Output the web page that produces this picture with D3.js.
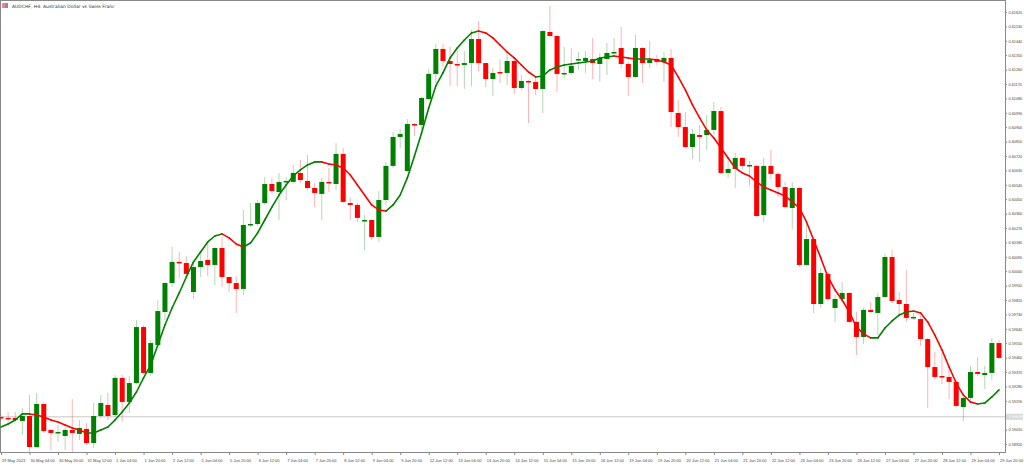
<!DOCTYPE html>
<html>
<head>
<meta charset="utf-8">
<script src="https://cdn.jsdelivr.net/npm/d3@7"></script>
<style>
  body { margin: 0; background: #fff; }
  svg { display: block; font-family: "DejaVu Sans", sans-serif; }
</style>
</head>
<body>
<div id="chart"></div>
<script>
// H4 candles, index 0 = 29 May 2023 00:00
var opens = [0.59089,0.59083,0.59083,0.59064,0.59095,0.58901,0.59170,0.59008,0.58989,0.58970,
  0.59008,0.58983,0.59014,0.58926,0.59095,0.59164,0.59101,0.59333,0.59183,0.59301,
  0.59651,0.59364,0.59539,0.59745,0.59926,0.60058,0.60051,0.59870,0.60026,0.60070,
  0.60039,0.60145,0.59964,0.59926,0.59889,0.60289,0.60295,0.60426,0.60545,0.60495,
  0.60558,0.60558,0.60614,0.60564,0.60520,0.60483,0.60558,0.60545,0.60733,0.60426,
  0.60414,0.60314,0.60320,0.60214,0.60445,0.60658,0.60839,0.60626,0.60920,0.60914,
  0.61076,0.61233,0.61389,0.61314,0.61295,0.61289,0.61301,0.61451,0.61301,0.61201,
  0.61245,0.61239,0.61314,0.61145,0.61189,0.61183,0.61139,0.61495,0.61470,0.61233,
  0.61239,0.61320,0.61314,0.61326,0.61295,0.61326,0.61364,0.61395,0.61295,0.61214,
  0.61395,0.61301,0.61326,0.61308,0.61333,0.60989,0.60901,0.60776,0.60851,0.60851,
  0.60883,0.61001,0.60614,0.60639,0.60708,0.60658,0.60658,0.60351,0.60658,0.60608,
  0.60526,0.60395,0.60520,0.60039,0.60201,0.59795,0.59983,0.59770,0.59826,0.59864,
  0.59683,0.59589,0.59758,0.59739,0.59839,0.60089,0.59820,0.59795,0.59708,0.59701,
  0.59576,0.59401,0.59345,0.59339,0.59308,0.59151,0.59208,0.59370,0.59351,0.59364,
  0.59551];
var highs = [0.59101,0.59120,0.59120,0.59145,0.59226,0.59239,0.59183,0.59014,0.59039,0.59039,
  0.59201,0.59070,0.59051,0.59176,0.59226,0.59239,0.59351,0.59351,0.59345,0.59695,
  0.59664,0.59570,0.59820,0.59933,0.60151,0.60120,0.60095,0.60051,0.60108,0.60183,
  0.60151,0.60214,0.59964,0.59970,0.60383,0.60426,0.60445,0.60589,0.60583,0.60614,
  0.60589,0.60664,0.60695,0.60726,0.60551,0.60583,0.60645,0.60801,0.60770,0.60464,
  0.60426,0.60351,0.60326,0.60501,0.60683,0.60870,0.60889,0.60951,0.60926,0.61089,
  0.61264,0.61420,0.61420,0.61401,0.61383,0.61376,0.61508,0.61564,0.61301,0.61270,
  0.61326,0.61370,0.61333,0.61226,0.61195,0.61214,0.61508,0.61658,0.61476,0.61401,
  0.61395,0.61370,0.61376,0.61458,0.61364,0.61426,0.61458,0.61526,0.61308,0.61476,
  0.61401,0.61439,0.61351,0.61370,0.61389,0.61070,0.60995,0.60889,0.60914,0.60976,
  0.61058,0.61026,0.60695,0.60739,0.60714,0.60689,0.60664,0.60708,0.60758,0.60620,
  0.60558,0.60558,0.60526,0.60301,0.60208,0.60020,0.59995,0.59851,0.59933,0.59870,
  0.59745,0.59770,0.59808,0.59864,0.60108,0.60133,0.59870,0.60008,0.59739,0.59726,
  0.59583,0.59495,0.59489,0.59401,0.59320,0.59239,0.59408,0.59464,0.59408,0.59583,
  0.59570];
var lows = [0.59070,0.59058,0.59058,0.58976,0.58870,0.58895,0.58989,0.58883,0.58933,0.58883,
  0.58870,0.58945,0.58914,0.58895,0.59083,0.59070,0.59089,0.59058,0.59114,0.59295,
  0.59358,0.59345,0.59526,0.59695,0.59901,0.59958,0.59964,0.59826,0.59964,0.59970,
  0.59914,0.59901,0.59870,0.59739,0.59851,0.60276,0.60283,0.60414,0.60483,0.60320,
  0.60445,0.60551,0.60551,0.60508,0.60401,0.60320,0.60495,0.60508,0.60426,0.60320,
  0.60308,0.60133,0.60195,0.60183,0.60414,0.60645,0.60770,0.60620,0.60845,0.60883,
  0.61070,0.61176,0.61276,0.61158,0.61158,0.61139,0.61158,0.61251,0.61151,0.61095,
  0.61176,0.61164,0.61108,0.61133,0.60926,0.61101,0.60989,0.61464,0.61120,0.61208,
  0.61226,0.61258,0.61239,0.61201,0.61183,0.61226,0.61339,0.61270,0.61095,0.61208,
  0.61176,0.61270,0.61289,0.61183,0.60901,0.60839,0.60770,0.60701,0.60683,0.60758,
  0.60851,0.60608,0.60583,0.60520,0.60639,0.60533,0.60339,0.60308,0.60576,0.60464,
  0.60395,0.60264,0.60026,0.60033,0.59739,0.59770,0.59820,0.59683,0.59808,0.59676,
  0.59476,0.59545,0.59739,0.59601,0.59833,0.59801,0.59726,0.59683,0.59695,0.59533,
  0.59145,0.59326,0.59295,0.59201,0.59151,0.59064,0.59195,0.59345,0.59264,0.59320,
  0.59451];
var closes = [0.59083,0.59076,0.59070,0.59095,0.58901,0.59170,0.59001,0.58989,0.58995,0.59008,
  0.58989,0.59020,0.58926,0.59095,0.59176,0.59095,0.59333,0.59183,0.59301,0.59651,
  0.59364,0.59551,0.59751,0.59926,0.60058,0.60051,0.59983,0.60026,0.60064,0.60039,
  0.60145,0.59964,0.59926,0.59889,0.60289,0.60295,0.60426,0.60545,0.60501,0.60558,
  0.60564,0.60614,0.60570,0.60520,0.60489,0.60558,0.60551,0.60733,0.60433,0.60414,
  0.60333,0.60320,0.60214,0.60445,0.60658,0.60839,0.60858,0.60920,0.60914,0.61083,
  0.61233,0.61389,0.61314,0.61295,0.61289,0.61301,0.61451,0.61301,0.61201,0.61239,
  0.61239,0.61314,0.61145,0.61189,0.61183,0.61139,0.61501,0.61470,0.61233,0.61239,
  0.61283,0.61326,0.61333,0.61301,0.61333,0.61364,0.61370,0.61295,0.61214,0.61395,
  0.61301,0.61320,0.61308,0.61333,0.60995,0.60901,0.60776,0.60858,0.60839,0.60883,
  0.61001,0.60614,0.60639,0.60708,0.60658,0.60664,0.60345,0.60658,0.60608,0.60526,
  0.60401,0.60520,0.60039,0.60201,0.59795,0.59989,0.59826,0.59826,0.59864,0.59683,
  0.59589,0.59758,0.59745,0.59839,0.60089,0.59814,0.59795,0.59708,0.59714,0.59576,
  0.59401,0.59339,0.59339,0.59308,0.59158,0.59208,0.59370,0.59358,0.59364,0.59551,
  0.59458];
// moving average line values per candle
var maValues = [0.59026,0.59045,0.59070,0.59108,0.59108,0.59101,0.59089,0.59070,0.59058,0.59039,
  0.59020,0.59008,0.58989,0.58989,0.59008,0.59026,0.59070,0.59120,0.59176,0.59245,
  0.59333,0.59414,0.59539,0.59664,0.59770,0.59864,0.59964,0.60058,0.60120,0.60183,
  0.60220,0.60233,0.60208,0.60170,0.60151,0.60176,0.60239,0.60320,0.60401,0.60476,
  0.60539,0.60595,0.60633,0.60664,0.60683,0.60683,0.60670,0.60664,0.60645,0.60601,
  0.60539,0.60476,0.60414,0.60383,0.60376,0.60414,0.60476,0.60583,0.60720,0.60864,
  0.61020,0.61158,0.61239,0.61333,0.61395,0.61445,0.61489,0.61501,0.61489,0.61458,
  0.61414,0.61370,0.61333,0.61289,0.61245,0.61214,0.61220,0.61258,0.61276,0.61289,
  0.61295,0.61301,0.61308,0.61314,0.61333,0.61339,0.61345,0.61339,0.61333,0.61326,
  0.61326,0.61326,0.61320,0.61308,0.61289,0.61214,0.61133,0.61039,0.60958,0.60883,
  0.60833,0.60770,0.60708,0.60645,0.60614,0.60595,0.60558,0.60526,0.60508,0.60489,
  0.60470,0.60433,0.60395,0.60308,0.60195,0.60083,0.59964,0.59883,0.59820,0.59745,
  0.59651,0.59608,0.59583,0.59583,0.59645,0.59689,0.59726,0.59745,0.59751,0.59739,
  0.59683,0.59601,0.59508,0.59401,0.59301,0.59226,0.59183,0.59170,0.59176,0.59214,
  0.59258];
var timeLabels = ["29 May 2023","30 May 04:00","30 May 20:00","31 May 12:00","1 Jun 04:00","1 Jun 20:00",
  "2 Jun 12:00","5 Jun 04:00","5 Jun 20:00","6 Jun 12:00","7 Jun 04:00","7 Jun 20:00","8 Jun 12:00",
  "9 Jun 04:00","9 Jun 20:00","12 Jun 12:00","13 Jun 04:00","13 Jun 20:00","14 Jun 12:00","15 Jun 04:00",
  "15 Jun 20:00","16 Jun 12:00","19 Jun 04:00","19 Jun 20:00","20 Jun 12:00","21 Jun 04:00","21 Jun 20:00",
  "22 Jun 12:00","23 Jun 04:00","23 Jun 20:00","26 Jun 12:00","27 Jun 04:00","27 Jun 20:00","28 Jun 12:00",
  "29 Jun 04:00","29 Jun 20:00"];
var priceTicks = d3.range(0, 31).map(function(k) { return 0.5892 + k * 0.0009; });
var bidPrice = 0.59090;
var title = "AUDCHF, H4:  Australian Dollar vs Swiss Franc";

var W = 1024, H = 467, plotR = 1005, plotB = 452;
var svg = d3.select("#chart").append("svg").attr("width", W).attr("height", H);

var x = d3.scaleLinear().domain([0, 140]).range([1, 999]);
var y = d3.scaleLinear().domain([0.5887, 0.61695]).range([plotB, 0]);

// frame
svg.append("rect").attr("x", 0.5).attr("y", 0.5).attr("width", plotR).attr("height", plotB)
  .attr("fill", "none").attr("stroke", "#888").attr("stroke-width", 1);

// bid line
svg.append("line").attr("x1", 0).attr("x2", plotR).attr("y1", y(bidPrice)).attr("y2", y(bidPrice))
  .attr("stroke", "#c8c8c8").attr("stroke-width", 1);

// candles
var idx = d3.range(opens.length);
var g = svg.append("g");
g.selectAll("line.wick").data(idx).join("line")
  .attr("x1", function(i) { return x(i); }).attr("x2", function(i) { return x(i); })
  .attr("y1", function(i) { return y(highs[i]); }).attr("y2", function(i) { return y(lows[i]); })
  .attr("stroke", function(i) { return closes[i] >= opens[i] ? "#008000" : "#ff0000"; })
  .attr("stroke-opacity", 0.3).attr("stroke-width", 1);
g.selectAll("rect.body").data(idx).join("rect")
  .attr("x", function(i) { return x(i) - 2.5; }).attr("width", 5)
  .attr("y", function(i) { return y(Math.max(opens[i], closes[i])); })
  .attr("height", function(i) { return Math.max(1.5, Math.abs(y(opens[i]) - y(closes[i]))); })
  .attr("fill", function(i) { return closes[i] >= opens[i] ? "#008000" : "#ff0000"; });

// moving average, coloured by slope
var segs = d3.range(1, maValues.length);
svg.append("g").selectAll("line").data(segs).join("line")
  .attr("x1", function(i) { return x(i - 1); }).attr("x2", function(i) { return x(i); })
  .attr("y1", function(i) { return y(maValues[i - 1]); }).attr("y2", function(i) { return y(maValues[i]); })
  .attr("stroke", function(i) { return maValues[i] >= maValues[i - 1] ? "#008000" : "#ff0000"; })
  .attr("stroke-width", 1.6).attr("stroke-linecap", "round");

// price axis
var yAxis = svg.append("g").attr("transform", "translate(" + plotR + ",0)")
  .call(d3.axisRight(y).tickValues(priceTicks).tickSize(2).tickFormat(d3.format(".5f")));
yAxis.select(".domain").remove();
yAxis.selectAll("line").attr("stroke", "#888");
yAxis.selectAll("text").attr("font-size", 3.8).attr("fill", "#444").attr("x", 3.5);

// bid label
svg.append("rect").attr("x", plotR + 1).attr("y", y(bidPrice) - 3).attr("width", 17).attr("height", 6)
  .attr("fill", "#d8d8d8");
svg.append("text").attr("x", plotR + 3.5).attr("y", y(bidPrice)).attr("dy", "0.35em")
  .attr("font-size", 3.8).attr("fill", "#fff").text(d3.format(".5f")(bidPrice));

// time axis
var tickIdx = timeLabels.map(function(d, k) { return k * 4; });
var xAxis = svg.append("g").attr("transform", "translate(0," + plotB + ")")
  .call(d3.axisBottom(x).tickValues(tickIdx).tickSize(3)
    .tickFormat(function(d) { return timeLabels[d / 4]; }));
xAxis.select(".domain").remove();
xAxis.selectAll("line").attr("stroke", "#888");
xAxis.selectAll("text").attr("font-size", 4).attr("fill", "#444")
  .attr("text-anchor", "start").attr("dx", 0.5).attr("y", 7);

// title with icon
svg.append("rect").attr("x", 2).attr("y", 3).attr("width", 3).attr("height", 5).attr("fill", "#e88");
svg.append("rect").attr("x", 5).attr("y", 3).attr("width", 3).attr("height", 5).attr("fill", "#88c");
svg.append("text").attr("x", 12).attr("y", 7.5).attr("font-size", 4.5).attr("fill", "#333").text(title);
</script>
</body>
</html>
